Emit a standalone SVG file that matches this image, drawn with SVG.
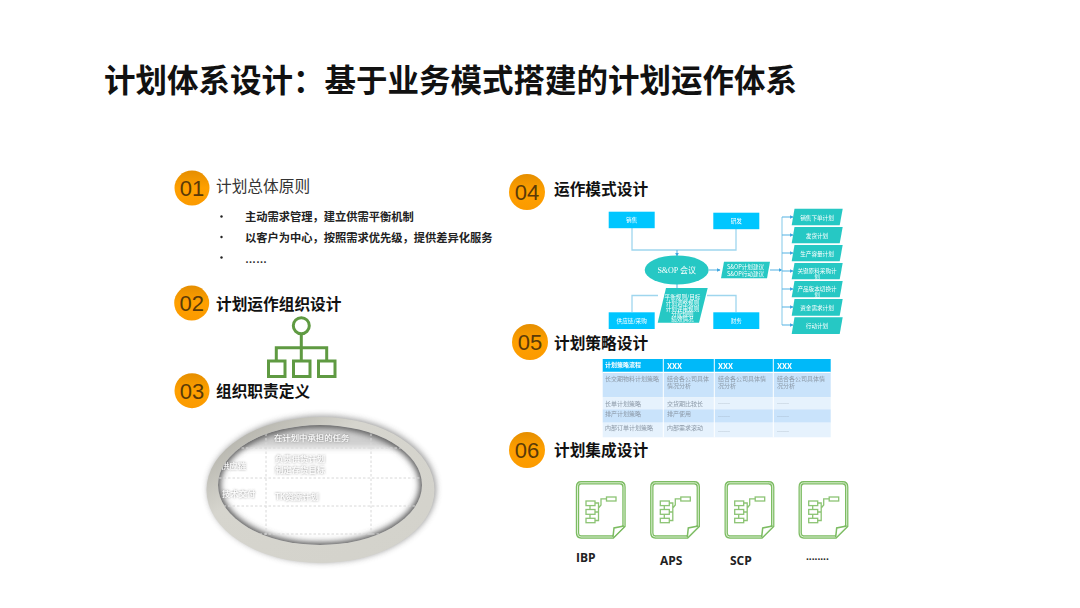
<svg xmlns="http://www.w3.org/2000/svg" xmlns:xlink="http://www.w3.org/1999/xlink" width="1080" height="608" viewBox="0 0 1080 608">
<style>
text{font-family:"Noto Sans CJK SC","Liberation Sans",sans-serif}
.h{font-size:15.7px;font-weight:700;fill:#111}
.n{font-family:"Liberation Sans","Noto Sans CJK SC",sans-serif;font-size:22px;fill:#5a3a08;text-anchor:middle}
.b{font-size:11.25px;font-weight:700;fill:#222}
.box{fill:#00c6ff}
.teal{fill:#25c8c4}
.t{font-size:5.6px;fill:#fff;text-anchor:middle}
.c{fill:none;stroke:#9fd6ee;stroke-width:1.3}
.a{fill:none;stroke:#62b8e6;stroke-width:1.1;marker-end:url(#ar)}
.tb{font-size:6px;fill:#8b98a6}
.th{font-size:8px;font-weight:700;fill:#fff}
.ov{font-size:8.4px;fill:#fff}
.dl{stroke:#d8d8d8;stroke-width:1;stroke-dasharray:2.5 2;fill:none}
.g{fill:none;stroke:#5f9a42;stroke-width:3}
.lb{font-family:"Open Sans","Liberation Sans",sans-serif;font-size:12px;font-weight:700;fill:#222}
</style>
<defs>
<filter id="soft" x="-10%" y="-30%" width="120%" height="160%"><feGaussianBlur stdDeviation="0.3"/></filter>
<filter id="b2" x="-20%" y="-20%" width="140%" height="140%"><feGaussianBlur stdDeviation="3"/></filter>
<filter id="b5" x="-20%" y="-20%" width="140%" height="140%"><feGaussianBlur stdDeviation="5"/></filter>
<filter id="ts" x="-10%" y="-40%" width="120%" height="180%"><feDropShadow dx="0" dy="0" stdDeviation="1.1" flood-color="#666" flood-opacity="0.9"/></filter>
<linearGradient id="ball" x1="0" y1="0" x2="0" y2="1"><stop offset="0" stop-color="#e58e00"/><stop offset="0.5" stop-color="#ffa000"/><stop offset="1" stop-color="#fb9a00"/></linearGradient>
<linearGradient id="ring" x1="0" y1="0" x2="1" y2="1"><stop offset="0" stop-color="#a5a49c"/><stop offset="0.35" stop-color="#d6d5ce"/><stop offset="1" stop-color="#d3d2cb"/></linearGradient>
<clipPath id="inner"><ellipse cx="320" cy="485" rx="102" ry="60"/></clipPath>
<marker id="ar" markerWidth="4" markerHeight="4" refX="3.4" refY="2" orient="auto" markerUnits="userSpaceOnUse"><path d="M0 0L4 2L0 4z" fill="#3fa6e0"/></marker>
<g id="doc">
<path d="M581 482.8H620Q624 482.8 624 487V526L613 537H581Q577.5 537 577.5 533V487Q577.5 482.8 581 482.8Z" fill="#fff" stroke="#7cbc62" stroke-width="3.4"/>
<path d="M581 482.8H620Q624 482.8 624 487V526L613 537H581Q577.5 537 577.5 533V487Q577.5 482.8 581 482.8Z" fill="none" stroke="#dcefd3" stroke-width="1"/>
<path d="M624 526L614 528L613 537" fill="#fff" stroke="#7cbc62" stroke-width="1.5"/>
<g fill="none" stroke="#8cc474" stroke-width="1.3">
<rect x="606.5" y="497" width="9.5" height="4"/>
<path d="M606.5 498.8H601V505L598.5 508M595 503H598.5V520.5H595M595 512H598.5"/>
<rect x="586" y="501" width="9" height="4.6"/>
<rect x="586" y="509.5" width="9" height="4.8"/>
<rect x="586" y="518.3" width="9" height="4.4"/>
<path d="M590 505.6V509.5M590 514.3V518.3"/>
</g>
</g>
</defs>
<rect width="1080" height="608" fill="#fff"/>
<text x="104" y="92" font-size="31.5" font-weight="700" fill="#111" style="font-size:31.5px;font-weight:700">计划体系设计：基于业务模式搭建的计划运作体系</text>

<g id="connectors">
<path class="c" d="M632 228V250H736V229"/>
<path class="a" d="M677 250V256"/>
<path class="c" d="M632 312V295.500H658M707 295.500H736V312"/>
<path class="a" d="M677 288V279.500"/>
<path class="a" d="M709 270H720"/>
<path class="a" d="M770 270H782"/>
<path class="c" d="M782 217V325"/>
<path class="a" d="M782 217H793"/>
<path class="a" d="M782 235H793"/>
<path class="a" d="M782 253H793"/>
<path class="a" d="M782 271H793"/>
<path class="a" d="M782 289H793"/>
<path class="a" d="M782 307H793"/>
<path class="a" d="M782 325H793"/>
</g>

<g id="n01"><circle cx="192" cy="188" r="17.500" fill="url(#ball)"/><text class="n" x="192" y="196">01</text><text x="216" y="192" style="font-size:15.700px;fill:#333">计划总体原则</text></g>
<g id="principles">
<circle cx="221.500" cy="216.500" r="1.200" fill="#222"/><text class="b" x="245" y="220.500">主动需求管理，建立供需平衡机制</text>
<circle cx="221.500" cy="237" r="1.200" fill="#222"/><text class="b" x="245" y="241.500">以客户为中心，按照需求优先级，提供差异化服务</text>
<circle cx="221.500" cy="257.500" r="1.200" fill="#222"/><text x="245" y="263" style="font-family:'Liberation Sans',sans-serif;font-size:11px;font-weight:700;fill:#333">……</text>
</g>
<g id="n02"><circle cx="191.700" cy="303" r="17.500" fill="url(#ball)"/><text class="n" x="191.700" y="311">02</text><text class="h" x="216" y="310">计划运作组织设计</text></g>
<g id="orgicon">
<circle class="g" cx="301.300" cy="325.700" r="8"/>
<path class="g" d="M301.300 334V360M276.300 360V347.700H326.700V360"/>
<rect class="g" x="268.500" y="361" width="16.500" height="15.500"/>
<rect class="g" x="293.500" y="361" width="16.500" height="15.500"/>
<rect class="g" x="318.500" y="361" width="16.500" height="15.500"/>
</g>
<g id="n03"><circle cx="192" cy="390.700" r="17.500" fill="url(#ball)"/><text class="n" x="192" y="398.700">03</text><text class="h" x="216" y="397">组织职责定义</text></g>

<g id="oval">
<ellipse cx="322" cy="489" rx="114" ry="73" fill="#555" opacity="0.6" filter="url(#b2)"/>
<ellipse cx="320.500" cy="490" rx="114" ry="73" fill="url(#ring)"/>
<ellipse cx="320" cy="485" rx="102" ry="60" fill="#fff"/>
<g clip-path="url(#inner)">
<rect x="200" y="420" width="240" height="28" fill="#cfcfcf" filter="url(#b2)"/>
<ellipse cx="320" cy="485" rx="104" ry="62" fill="none" stroke="#555" stroke-width="9" filter="url(#b2)"/>
<path class="dl" d="M210 448H430M210 478H430M210 506H430M210 534H430M266 420V545M371 420V545"/>
<g filter="url(#ts)">
<text class="ov" x="274" y="441">在计划中承担的任务</text>
<text class="ov" x="275" y="462">负责供货计划</text>
<text class="ov" x="275" y="472.500">制定存货目标</text>
<text class="ov" x="221" y="469">供应链</text>
<text class="ov" x="222" y="497">技术交付</text>
<text class="ov" x="275" y="499.500">TK资源计划</text>
</g>
</g>
</g>

<g id="n04"><circle cx="527" cy="192" r="18" fill="url(#ball)"/><text class="n" x="527" y="200">04</text><text class="h" x="554" y="195">运作模式设计</text></g>
<g id="opmodel" filter="url(#soft)">
<g id="box-sales"><rect class="box" x="608.700" y="211.700" width="46" height="16.500"/><text class="t" x="631.700" y="222">销售</text></g>
<g id="box-rd"><rect class="box" x="713.300" y="212.700" width="46" height="16.500"/><text class="t" x="736.300" y="223">研发</text></g>
<g id="box-scm"><rect class="box" x="608.700" y="312.300" width="46" height="16.700"/><text class="t" x="631.700" y="322.800">供应链/采购</text></g>
<g id="box-fin"><rect class="box" x="713.300" y="312.300" width="46" height="16.700"/><text class="t" x="736.300" y="322.800">财务</text></g>
<g id="sop"><ellipse class="teal" cx="676.700" cy="270" rx="32" ry="14.500"/><text x="676.700" y="272.500" text-anchor="middle" style="font-family:'Liberation Serif','Noto Sans CJK SC',serif;font-size:8px;fill:#fff">S&amp;OP 会议</text></g>
<g id="sop-out"><path class="teal" d="M724 261.700H770L767 278.300H721Z"/><text class="t" x="745.500" y="269">S&amp;OP计划建议</text><text class="t" x="745.500" y="275.500">S&amp;OP行动建议</text></g>
<g id="rules"><path class="teal" d="M666 288H707.700L699 322.700H657.700Z"/>
<text class="t" x="682.500" y="299">平衡规则/目标</text><text class="t" x="682.500" y="305">计划调整规则</text><text class="t" x="682.500" y="310.500">计划评审规则</text><text class="t" x="682.500" y="316">分配规则</text><text class="t" x="682.500" y="321">绩效情况</text></g>
<g id="r1"><path class="teal" d="M794.500 208.700H842.700L839.700 225.300H791.700Z"/><text class="t" x="817" y="220">销售下单计划</text></g>
<g id="r2"><path class="teal" d="M794.500 227H842.700L839.700 243.300H791.700Z"/><text class="t" x="817" y="238">发货计划</text></g>
<g id="r3"><path class="teal" d="M794.500 245H842.700L839.700 261.300H791.700Z"/><text class="t" x="817" y="256">生产容量计划</text></g>
<g id="r4"><path class="teal" d="M794.500 263H842.700L839.700 279.300H791.700Z"/><text class="t" x="817" y="273">关键原料采购计</text><text class="t" x="817" y="278.500">划</text></g>
<g id="r5"><path class="teal" d="M794.500 281H842.700L839.700 297.300H791.700Z"/><text class="t" x="817" y="291">产品版本切换计</text><text class="t" x="817" y="296.500">划</text></g>
<g id="r6"><path class="teal" d="M794.500 299H842.700L839.700 315.700H791.700Z"/><text class="t" x="817" y="310">资金需求计划</text></g>
<g id="r7"><path class="teal" d="M794.500 317.300H842.700L839.700 334H791.700Z"/><text class="t" x="817" y="328">行动计划</text></g>
</g>

<g id="n05"><circle cx="530" cy="342" r="18" fill="url(#ball)"/><text class="n" x="530" y="350">05</text><text class="h" x="554" y="349">计划策略设计</text></g>
<g id="table" filter="url(#soft)">
<rect x="602.700" y="359" width="228" height="13.300" fill="#00b9f9"/>
<rect x="602.700" y="372.300" width="228" height="25" fill="#c9e3fb"/>
<rect x="602.700" y="397.300" width="228" height="12" fill="#e6f2fd"/>
<rect x="602.700" y="409.300" width="228" height="13.400" fill="#c9e3fb"/>
<rect x="602.700" y="422.700" width="228" height="14.600" fill="#e6f2fd"/>
<path d="M663.300 359V437.300M714.300 359V437.300M773.300 359V437.300" stroke="#fff" stroke-width="1" fill="none"/>
<path d="M602.700 372.300H830.700" stroke="#fff" stroke-width="1.200" fill="none"/>
<text class="th" x="605" y="367" style="font-size:6px">计划策略流程</text>
<text class="th" x="667" y="369">XXX</text><text class="th" x="718" y="369">XXX</text><text class="th" x="777" y="369">XXX</text>
<text class="tb" x="605" y="381">长交期物料计划策略</text>
<text class="tb" x="667" y="381">结合各公司具体</text><text class="tb" x="667" y="388">情况分析</text>
<text class="tb" x="718" y="381">结合各公司具体情</text><text class="tb" x="718" y="388">况分析</text>
<text class="tb" x="777" y="381">结合各公司具体情</text><text class="tb" x="777" y="388">况分析</text>
<text class="tb" x="605" y="406">长单计划策略</text><text class="tb" x="667" y="406">交货期比较长</text><text class="tb" x="718" y="406">……</text><text class="tb" x="777" y="406">……</text>
<text class="tb" x="605" y="416">排产计划策略</text><text class="tb" x="667" y="416">排产使用</text><text class="tb" x="718" y="419">……</text><text class="tb" x="777" y="419">……</text>
<text class="tb" x="605" y="430">内部订单计划策略</text><text class="tb" x="667" y="430">内部需求滚动</text><text class="tb" x="718" y="434">……</text><text class="tb" x="777" y="434">……</text>
</g>

<g id="n06"><circle cx="527" cy="450" r="18" fill="url(#ball)"/><text class="n" x="527" y="458">06</text><text class="h" x="554" y="456">计划集成设计</text></g>
<g id="ibp"><use href="#doc"/><text class="lb" x="576" y="562">IBP</text></g>
<g id="aps"><use href="#doc" x="74.300"/><text class="lb" x="660" y="565">APS</text></g>
<g id="scp"><use href="#doc" x="148.700"/><text class="lb" x="730" y="565">SCP</text></g>
<g id="more"><use href="#doc" x="222.700"/><text class="lb" x="806" y="560" style="font-size:10px">........</text></g>
</svg>
